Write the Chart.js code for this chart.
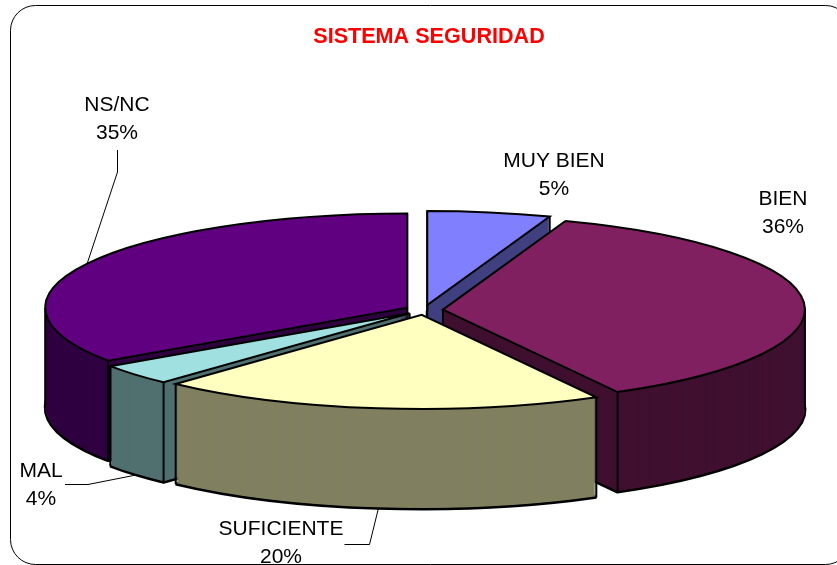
<!DOCTYPE html>
<html>
<head>
<meta charset="utf-8">
<style>
html,body{margin:0;padding:0;background:#fff;overflow:hidden}
canvas{display:block}
</style>
<script src="https://cdn.jsdelivr.net/npm/chart.js@4"></script>
</head>
<body>
<canvas id="c" width="837" height="565"></canvas>
<script>
const categories = ['MUY BIEN', 'BIEN', 'SUFICIENTE', 'MAL', 'NS/NC'];
const values = [5.49, 36.49, 19.9, 3.6, 34.5];
const topColors = ['#8080FF', '#802060', '#FFFFC0', '#A0E0E0', '#600080'];
const wallColors = ['#404080', '#401030', '#808060', '#507070', '#300040'];
const titleText = 'SISTEMA SEGURIDAD';

// painter's order for the side walls: back to front
const wallOrder = [4, 0, 1, 3, 2];
// label anchors (text centre, first-line y) and leader lines
const labelLayout = [
  {x: 554, y: 161, leader: null},
  {x: 783, y: 199, leader: null},
  {x: 281, y: 529, leader: [[344.5, 544.5], [369.5, 544.5], [378.5, 508]]},
  {x: 41,  y: 471, leader: [[65, 484.5], [88, 484.5], [136, 475]]},
  {x: 117, y: 105, leader: [[117.5, 150], [117.5, 172], [87, 264]]}
];
const view = {cx: 424, cy: 310, squash: 0.26, depth: 100, explode: 19};

function mid(arc) { return (arc.startAngle + arc.endAngle) / 2; }
function place(ctx, arc, d) {
  const m = mid(arc);
  ctx.translate(view.cx, view.cy + d);
  ctx.scale(1, view.squash);
  ctx.translate(-arc.x, -arc.y);
  ctx.translate(Math.cos(m) * view.explode, Math.sin(m) * view.explode);
}
function project(arc, angle, r) {
  const m = mid(arc);
  return [
    view.cx + Math.cos(m) * view.explode + Math.cos(angle) * r,
    view.cy + view.squash * (Math.sin(m) * view.explode + Math.sin(angle) * r)
  ];
}
function spans(arc, angle) {
  const t = Math.PI * 2;
  return [angle, angle + t, angle - t].some(a => a >= arc.startAngle && a <= arc.endAngle);
}
function drawArcWith(ctx, arc, d, over) {
  const base = arc.options;
  const opts = Object.create(base);
  Object.keys(over).forEach(k => Object.defineProperty(opts, k, {value: over[k]}));
  arc.options = opts;
  ctx.save();
  place(ctx, arc, d);
  // stroke in screen space so the outline keeps an even width on the squashed pie
  const stroke = ctx.stroke;
  ctx.stroke = function () {
    const t = ctx.getTransform();
    ctx.resetTransform();
    stroke.call(ctx);
    ctx.setTransform(t);
  };
  arc.draw(ctx);
  delete ctx.stroke;
  ctx.restore();
  arc.options = base;
}

const pie3d = {
  id: 'pie3d',
  beforeDraw(chart) {
    const ctx = chart.ctx;
    ctx.save();
    ctx.strokeStyle = '#000';
    ctx.lineWidth = 1;
    ctx.beginPath();
    ctx.roundRect(10.5, 5.5, 840, 559, 25);
    ctx.stroke();
    ctx.restore();
  },
  beforeDatasetDraw(chart, args) {
    const ctx = chart.ctx;
    const arcs = args.meta.data;
    wallOrder.forEach(i => {
      const arc = arcs[i];
      const wall = wallColors[i];
      drawArcWith(ctx, arc, view.depth, {backgroundColor: wall, borderColor: '#000', borderWidth: 3, borderJoinStyle: 'bevel'});
      for (let d = view.depth - 1; d >= 0; d--) {
        drawArcWith(ctx, arc, d, {backgroundColor: wall, borderWidth: 0});
      }
      const corners = [project(arc, arc.startAngle, arc.outerRadius), project(arc, arc.endAngle, arc.outerRadius)];
      if (!spans(arc, Math.PI / 2)) corners.push(project(arc, 0, 0));
      [0, Math.PI].forEach(a => { if (spans(arc, a)) corners.push(project(arc, a, arc.outerRadius)); });
      ctx.save();
      ctx.strokeStyle = '#000';
      ctx.lineWidth = 2;
      corners.forEach(p => {
        ctx.beginPath();
        ctx.moveTo(p[0], p[1]);
        ctx.lineTo(p[0], p[1] + view.depth);
        ctx.stroke();
      });
      ctx.restore();
    });
    arcs.forEach(arc => {
      drawArcWith(ctx, arc, 0, {borderJoinStyle: 'miter'});
    });
    return false;
  },
  afterDatasetsDraw(chart) {
    const ctx = chart.ctx;
    ctx.save();
    ctx.font = '21px "Liberation Sans", Arial, sans-serif';
    ctx.fillStyle = '#000';
    ctx.textAlign = 'center';
    ctx.textBaseline = 'middle';
    ctx.strokeStyle = '#000';
    ctx.lineWidth = 1;
    categories.forEach((name, i) => {
      const l = labelLayout[i];
      ctx.fillText(name, l.x, l.y);
      ctx.fillText(Math.round(values[i]) + '%', l.x, l.y + 28);
      if (l.leader) {
        ctx.beginPath();
        l.leader.forEach((p, j) => j ? ctx.lineTo(p[0], p[1]) : ctx.moveTo(p[0], p[1]));
        ctx.stroke();
      }
    });
    ctx.restore();
  }
};

new Chart(document.getElementById('c'), {
  type: 'pie',
  data: {
    labels: categories,
    datasets: [{
      data: values,
      backgroundColor: topColors,
      borderColor: '#000',
      borderWidth: 2,
      radius: 362
    }]
  },
  options: {
    responsive: false,
    animation: false,
    layout: {padding: {left: 21}},
    plugins: {
      legend: {display: false},
      tooltip: {enabled: false},
      title: {
        display: true,
        text: titleText,
        color: '#FF0000',
        fullSize: false,
        font: {family: '"Liberation Sans", Arial, sans-serif', size: 21.6, weight: 'bold'},
        padding: {top: 24, bottom: 0}
      }
    }
  },
  plugins: [pie3d]
});
</script>
</body>
</html>
